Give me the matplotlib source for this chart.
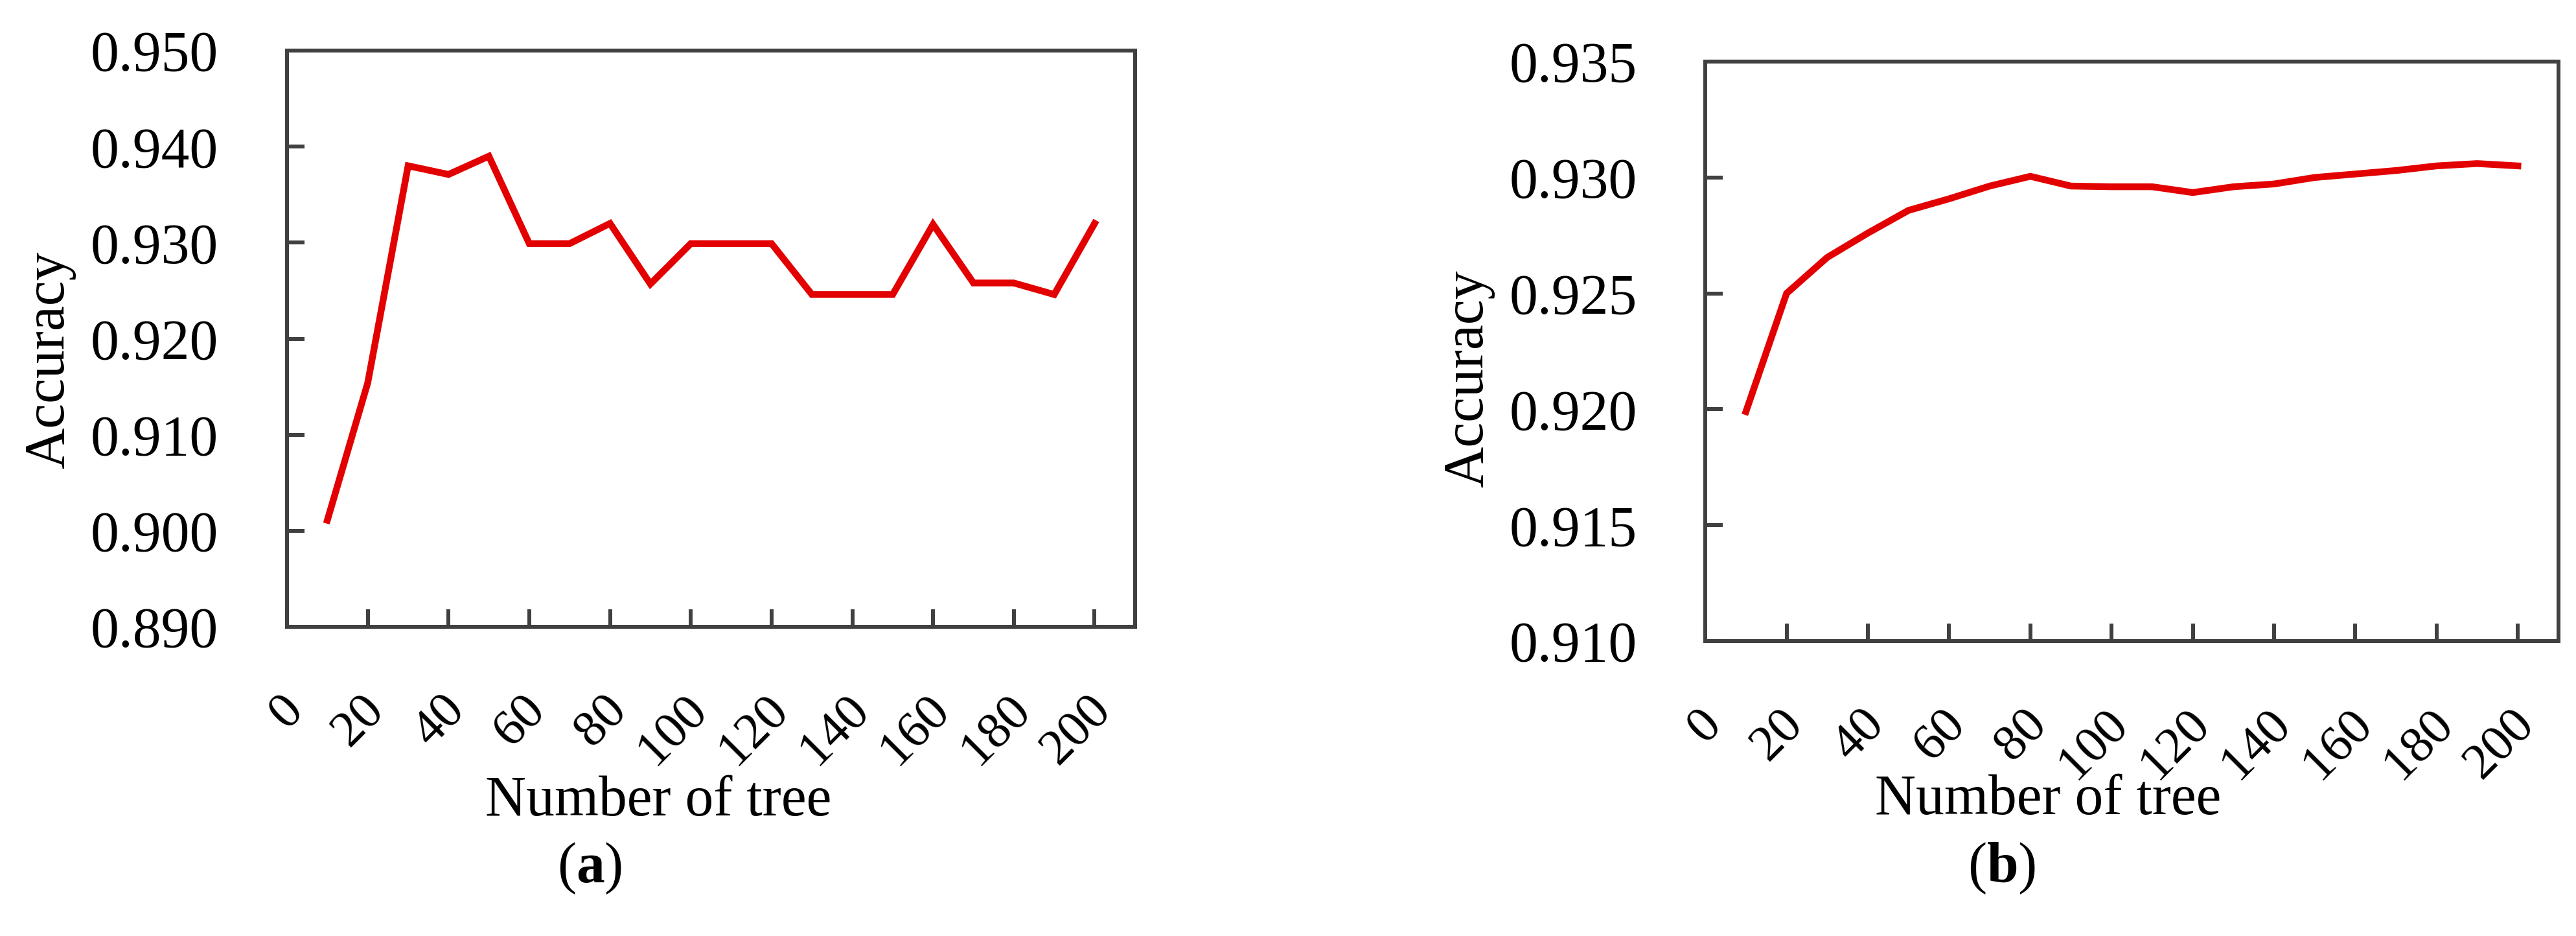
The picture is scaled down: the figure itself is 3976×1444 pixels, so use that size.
import matplotlib
matplotlib.use('Agg')
import matplotlib.pyplot as plt
import matplotlib.transforms as mtransforms
import numpy as np

plt.rcParams['font.family'] = ['Liberation Serif', 'DejaVu Serif']
plt.rcParams['mathtext.fontset'] = 'custom'
plt.rcParams['mathtext.rm'] = 'Liberation Serif'
plt.rcParams['mathtext.bf'] = 'Liberation Serif:bold'

# Number of trees (x) and accuracy for the two panels
n_trees = [10, 20, 30, 40, 50, 60, 70, 80, 90, 100,
           110, 120, 130, 140, 150, 160, 170, 180, 190, 200]
acc_a = [0.9011, 0.9154, 0.9380, 0.9371, 0.9390, 0.9299, 0.9299, 0.9320,
         0.9257, 0.9299, 0.9299, 0.9299, 0.9246, 0.9246, 0.9246, 0.9319,
         0.9258, 0.9258, 0.9246, 0.9320]
acc_b = [0.9199, 0.9250, 0.92655, 0.9276, 0.92858, 0.92908, 0.92963, 0.93005,
         0.92963, 0.92960, 0.92960, 0.92935, 0.92960, 0.92972, 0.93000,
         0.93015, 0.93030, 0.93050, 0.93060, 0.93050]

x_ticks = [0, 20, 40, 60, 80, 100, 120, 140, 160, 180, 200]
yticks_a = [0.890, 0.900, 0.910, 0.920, 0.930, 0.940, 0.950]
yticks_b = [0.910, 0.915, 0.920, 0.925, 0.930, 0.935]

FS = 63
FS_X = 57
frame_col = '#404040'
line_col = '#E30000'

fig = plt.figure(figsize=(39.76, 14.44), dpi=100)
ax_a = fig.add_axes([0.1114, 0.3303, 0.3292, 0.6157])
ax_b = fig.add_axes([0.6620, 0.3151, 0.3312, 0.6191])

# small shift of the slanted x tick labels to the right
shift = mtransforms.ScaledTranslation(0.14, 0, fig.dpi_scale_trans)


def style_axis(ax, yticks, ylabel_xy, xlabel_xy):
    ax.set_xlim(0, 210)
    ax.set_ylim(yticks[0], yticks[-1])
    ax.set_xticks(x_ticks)
    ax.set_yticks(yticks)
    ax.set_yticklabels([f'{v:.3f}' for v in yticks])
    for s in ax.spines.values():
        s.set_color(frame_col)
        s.set_linewidth(4.3)
    ax.tick_params(axis='both', direction='in', length=19.5, width=4.3,
                   color=frame_col)
    ax.tick_params(axis='y', pad=76, left=True, right=False, labelsize=FS)
    ax.tick_params(axis='x', pad=84, top=False, labelsize=FS_X)
    for lab in ax.get_xticklabels():
        lab.set_rotation(45)
        lab.set_rotation_mode('anchor')
        lab.set_ha('right')
        lab.set_va('center')
        lab.set_transform(lab.get_transform() + shift)
    ax.set_ylabel('Accuracy', fontsize=FS)
    ax.yaxis.set_label_coords(*ylabel_xy)
    ax.set_xlabel('Number of tree', fontsize=FS)
    ax.xaxis.set_label_coords(*xlabel_xy)


ax_a.plot(n_trees, acc_a, color=line_col, lw=7.5, solid_joinstyle='miter')
style_axis(ax_a, yticks_a, (-0.249, 0.463), (0.438, -0.258))

ax_b.plot(n_trees, acc_b, color=line_col, lw=7.5, solid_joinstyle='miter')
style_axis(ax_b, yticks_b, (-0.247, 0.453), (0.402, -0.229))

fig.text(910 / 3976, 1 - 1340 / 1444, r'($\mathbf{a}$)', fontsize=FS,
         ha='center', va='center')
fig.text(3090 / 3976, 1 - 1340 / 1444, r'($\mathbf{b}$)', fontsize=FS,
         ha='center', va='center')

fig.savefig('out.png', dpi=100, facecolor='white')
